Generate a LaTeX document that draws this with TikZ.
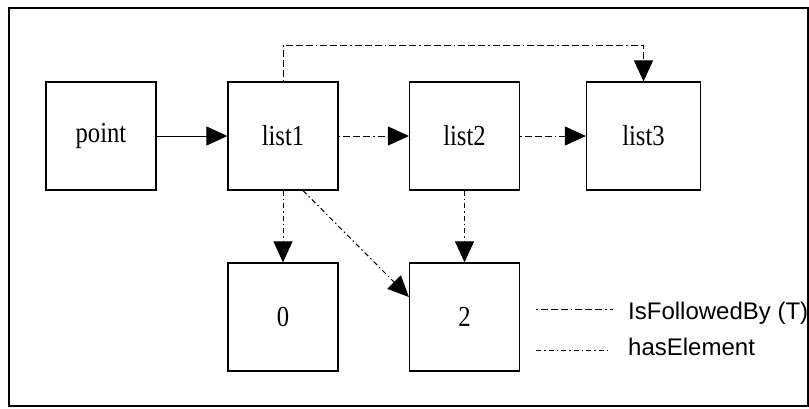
\documentclass[tikz,border=0pt]{standalone}
\usepackage{fontspec}
\setmainfont{Liberation Serif}
\newfontfamily\legfont{Liberation Sans}
\usetikzlibrary{arrows.meta}
\newcommand{\narrowtext}[1]{\scalebox{0.85}[1]{#1}}
\begin{document}
\begin{tikzpicture}[x=1pt,y=-1pt,
  box/.style={draw,line width=1.2pt,minimum width=110pt,minimum height=108pt,inner sep=0pt,
    font=\fontsize{29}{32}\selectfont},
  conn/.style={line width=1pt,-{Triangle[length=21pt,width=19pt]}},
  follows/.style={dash pattern=on 1.5pt off 3pt on 7pt off 3pt on 7pt off 3pt on 7pt off 3pt},
  haselem/.style={dash pattern=on 5pt off 3pt on 1.5pt off 3pt},
  legtext/.style={anchor=base west,inner sep=0pt,font=\legfont\fontsize{24}{28}\selectfont}]
\useasboundingbox (0,0) rectangle (809,408);
\draw[line width=1.5pt] (9,8) rectangle (808,406);
\node[box] (point) at (101,136) {\narrowtext{point}};
\node[box] (list1) at (283,136) {\narrowtext{list1}};
\node[box] (list2) at (464.5,136) {\narrowtext{list2}};
\node[box,minimum width=114pt] (list3) at (643.5,136) {\narrowtext{list3}};
\node[box] (n0) at (283,317) {\narrowtext{0}};
\node[box] (n2) at (464.5,317) {\narrowtext{2}};
\draw[conn] (point) -- (list1);
\draw[conn,follows] (list1) -- (list2);
\draw[conn,follows] (list2) -- (list3);
\coordinate (top) at (283,45);
\draw[conn,follows] (list1.north) -- (top) -| (list3.north);
\draw[conn,haselem] (list1) -- (n0);
\draw[conn,haselem] (list2) -- (n2);
\draw[conn,haselem] ([xshift=20pt]list1.south) -- ([yshift=20pt]n2.west);
\coordinate (l1a) at (536,309);
\coordinate (l1b) at (613,309);
\coordinate (l2a) at (536,350);
\coordinate (l2b) at (607,350);
\draw[line width=1pt,follows] (l1a) -- (l1b);
\draw[line width=1pt,haselem] (l2a) -- (l2b);
\node[legtext] (t1) at (628,319.5) {IsFollowedBy (T)};
\node[legtext] (t2) at (628,355) {hasElement};
\end{tikzpicture}
\end{document}
